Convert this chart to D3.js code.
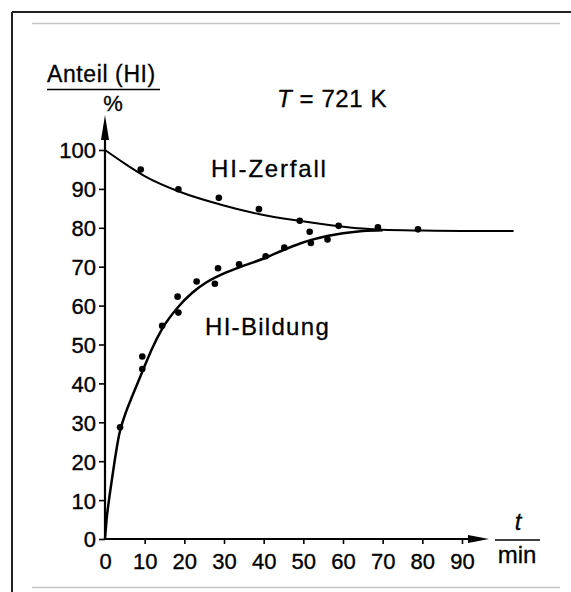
<!DOCTYPE html>
<html><head><meta charset="utf-8">
<script src="https://cdn.jsdelivr.net/npm/d3@7"></script>
<style>html,body{margin:0;padding:0;background:#fff;}svg{display:block;}</style>
</head><body>
<script>
// ---- data ----
const xTicks = [0,10,20,30,40,50,60,70,80,90];
const yTicks = [0,10,20,30,40,50,60,70,80,90,100];
// measured points [t (min), share HI (%)]
const zerfallPoints = [[9,95],[18.5,89.9],[28.7,87.7],[38.8,84.8],[49.1,81.8],[51.6,79.0],[58.9,80.5],[68.8,80.1],[78.9,79.6]];
const bildungPoints = [[3.8,28.7],[9.4,43.7],[9.4,46.9],[14.4,54.8],[18.5,58.2],[18.3,62.3],[23.1,66.2],[27.7,65.6],[28.5,69.6],[33.8,70.6],[40.5,72.7],[45.2,74.9],[51.9,76.1],[56.1,77.0]];
// drawn curves
const zerfallCurve = [[0,100],[5,96.5],[10,93.3],[19,89.2],[29,86],[39,83.5],[49,81.8],[59,80.4],[65,79.8],[70,79.5],[80,79.3],[90,79.2],[103,79.2]];
const bildungCurve = [[0,0],[0.4,5],[1.0,10],[1.7,15],[2.5,20.5],[3.6,27],[5,31.8],[6.5,35.8],[8,39.5],[9.4,43],[11.8,48.8],[14.4,54],[18.5,59.7],[22,63.3],[25.6,66],[30,68.3],[34,69.9],[40.5,72.3],[45,74.3],[49,75.9],[52,76.9],[56,77.9],[60,78.6],[65,79.2],[70,79.4]];

const W = 571, H = 592;
const svg = d3.select("body").append("svg").attr("width", W).attr("height", H);
const font = "Liberation Sans, Arial, Helvetica, sans-serif";

// frame
svg.append("line").attr("x1",12).attr("y1",12).attr("x2",571).attr("y2",12).attr("stroke","#222").attr("stroke-width",2);
svg.append("line").attr("x1",12).attr("y1",12).attr("x2",12).attr("y2",592).attr("stroke","#222").attr("stroke-width",2);
svg.append("line").attr("x1",32).attr("y1",23.5).attr("x2",560).attr("y2",23.5).attr("stroke","#c4c4c4").attr("stroke-width",1.3);
svg.append("line").attr("x1",32).attr("y1",587.5).attr("x2",560).attr("y2",587.5).attr("stroke","#c4c4c4").attr("stroke-width",1.3);

const x = d3.scaleLinear().domain([0,90]).range([105,462]);
const y = d3.scaleLinear().domain([0,100]).range([539,150]);

// axes
const xAxis = svg.append("g").attr("transform",`translate(0,${y(0)})`)
  .call(d3.axisBottom(x).tickValues(xTicks).tickSize(5).tickPadding(9).tickSizeOuter(0));
const yAxis = svg.append("g").attr("transform",`translate(${x(0)},0)`)
  .call(d3.axisLeft(y).tickValues(yTicks).tickSize(6).tickPadding(3).tickSizeOuter(0));
[xAxis,yAxis].forEach(g=>{
  g.select(".domain").remove();
  g.selectAll(".tick line").attr("stroke","#000").attr("stroke-width",1.6);
  g.selectAll(".tick text").attr("fill","#000").attr("stroke","#000").attr("stroke-width",0.35)
    .style("font-family",font).style("font-size","22px");
});
xAxis.selectAll(".tick").filter(d=>d===0).select("line").remove();
yAxis.selectAll(".tick text").attr("dy","0.36em");

// axis lines with arrows
svg.append("line").attr("x1",x(0)-1).attr("y1",y(0)).attr("x2",472).attr("y2",y(0)).attr("stroke","#000").attr("stroke-width",2);
svg.append("path").attr("d",`M468,${y(0)-4}L489,${y(0)}L468,${y(0)+4}Z`).attr("fill","#000");
svg.append("line").attr("x1",x(0)).attr("y1",y(0)+1).attr("x2",x(0)).attr("y2",136).attr("stroke","#000").attr("stroke-width",2.2);
svg.append("path").attr("d",`M${x(0)-4},140L${x(0)},115L${x(0)+4},140Z`).attr("fill","#000");

// curves
const line = d3.line().x(d=>x(d[0])).y(d=>y(d[1])).curve(d3.curveMonotoneX);
svg.append("path").datum(zerfallCurve).attr("d",line).attr("fill","none").attr("stroke","#000").attr("stroke-width",2);
svg.append("path").datum(bildungCurve).attr("d",line).attr("fill","none").attr("stroke","#000").attr("stroke-width",2.5);

// points
svg.append("g").selectAll("circle").data(zerfallPoints.concat(bildungPoints)).join("circle")
  .attr("cx",d=>x(d[0])).attr("cy",d=>y(d[1])).attr("r",3.3).attr("fill","#000");

// texts
const txt = (s,xx,yy,size,anchor,style)=>svg.append("text").attr("x",xx).attr("y",yy)
  .attr("text-anchor",anchor||"start").style("font-family",font).style("font-size",size+"px")
  .style("font-style",style||"normal").attr("fill","#000").attr("stroke","#000").attr("stroke-width",0.3).text(s);
txt("Anteil (HI)",47,82,23).attr("letter-spacing","0.6px");
svg.append("line").attr("x1",47).attr("y1",89.5).attr("x2",160).attr("y2",89.5).attr("stroke","#000").attr("stroke-width",1.3);
txt("%",113,111,22,"middle");
const tt = txt("",277,107,24).attr("letter-spacing","0.6px");
tt.append("tspan").style("font-style","italic").text("T");
tt.append("tspan").text(" = 721 K");
txt("HI-Zerfall",211,177,24).attr("letter-spacing","1.8px");
txt("HI-Bildung",205,335,24).attr("letter-spacing","1.3px");
txt("t",518,530,24,"middle","italic");
svg.append("line").attr("x1",495).attr("y1",540).attr("x2",540).attr("y2",540).attr("stroke","#000").attr("stroke-width",1.3);
txt("min",517,563,24,"middle");
</script>
</body></html>
